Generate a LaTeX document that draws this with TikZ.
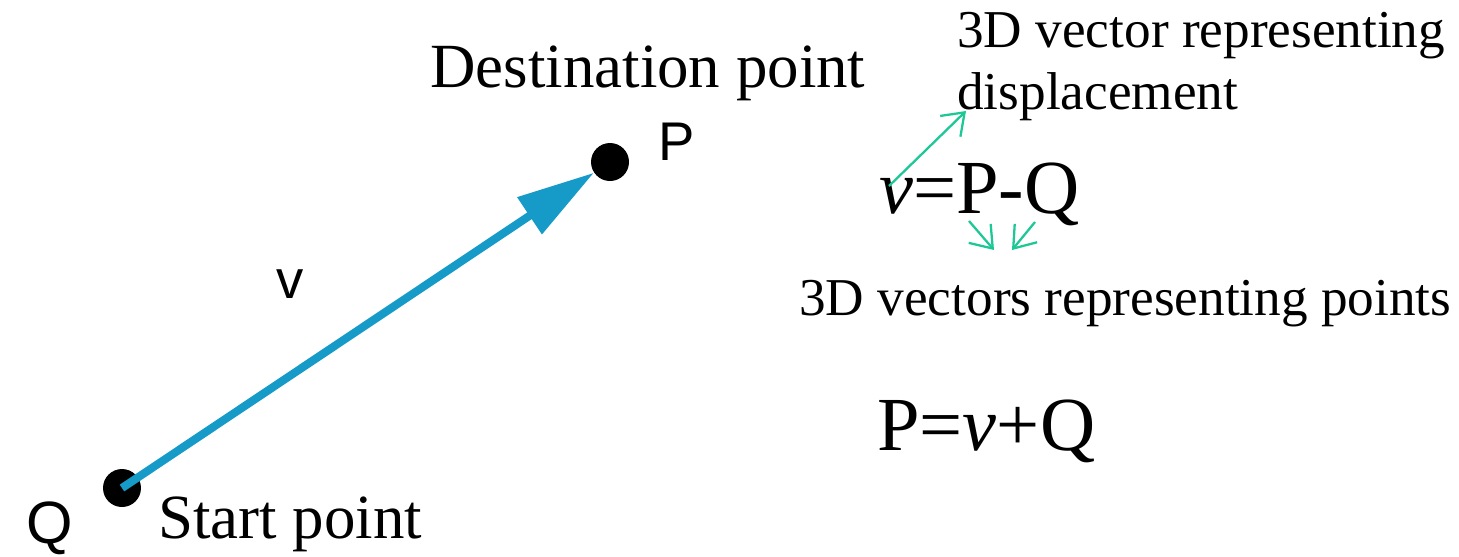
\documentclass[tikz,border=0pt]{standalone}
\usepackage{fontspec}
\setmainfont{Liberation Serif}
\newfontfamily\labelsans{Liberation Sans}
\usetikzlibrary{arrows.meta,positioning}
\definecolor{vecblue}{RGB}{22,155,200}
\definecolor{notegreen}{RGB}{30,200,150}

\begin{document}
\begin{tikzpicture}[
    x=0.02cm, y=-0.02cm,
    txt/.style={anchor=base west, inner sep=0pt},
    ptlabel/.style={txt, font=\labelsans\fontsize{31}{31}\selectfont},
    note/.style={txt, font=\fontsize{30.3}{30}\selectfont},
    caption/.style={txt, font=\fontsize{35.8}{36}\selectfont},
    formula/.style={txt, font=\fontsize{43.5}{44}\selectfont},
    dot/.style={circle, fill=black, inner sep=0pt, minimum size=0.76cm},
    vecarrow/.style={-{Triangle[length=1.55cm, width=0.85cm]}, vecblue, line width=4.6pt},
    pointer/.style={-{Straight Barb[length=0.4cm, width=0.58cm]}, notegreen, line width=1.3pt}
]
\useasboundingbox (0,0) rectangle (1459,556);

% Points
\node[dot] (Q) at (122,488) {};
\node[dot] (P) at (610,162) {};
\node[ptlabel, font=\labelsans\fontsize{34}{34}\selectfont] (qlabel) at (26,543) {Q};
\node[ptlabel] (plabel) at (658,160) {P};
\node[ptlabel] (vlabel) at (276,298) {v};

% Vector Q -> P
\draw[vecarrow] (Q.center) -- (P);

% Captions
\node[caption] (start) at (158,538) {Start point};
\node[caption] (dest) at (430,87) {Destination point};

% Formulas
\node[note] (disp1) at (957,47) {3D vector representing};
\node[note] (disp2) at (957,109) {displacement};
\node[formula] (vdef) at (879,213) {\textit{v}=P-Q};
\node[note] (pts) at (799,315) {3D vectors representing points};
\node[formula] (pdef) at (877,450) {P=\textit{v}+Q};

% Pointers
\coordinate (vfoot) at (889,186);
\coordinate (dispend) at (966,111);
\coordinate (pfoot) at (969,221);
\coordinate (qfoot) at (1035,222);
\coordinate (ptsend1) at (994,250);
\coordinate (ptsend2) at (1012,250);
\draw[pointer] (vfoot) -- (dispend);
\draw[pointer] (pfoot) -- (ptsend1);
\draw[pointer] (qfoot) -- (ptsend2);

\end{tikzpicture}
\end{document}
